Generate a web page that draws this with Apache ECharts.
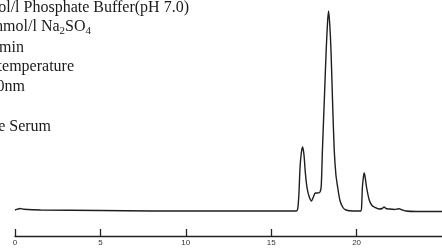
<!DOCTYPE html>
<html>
<head>
<meta charset="utf-8">
<script src="https://cdn.jsdelivr.net/npm/echarts@6/dist/echarts.min.js"></script>
<style>
  html, body { margin: 0; padding: 0; background: #fff; }
  #chart { width: 442px; height: 251px; }
</style>
</head>
<body>
<div id="chart"></div>
<script>
// retention time (min) and detector signal (arbitrary units, baseline ~26)
var times = [0, 0.15, 0.3, 0.5, 1.5, 5, 8, 11, 14.3, 16.47,
  16.55, 16.62, 16.69, 16.77, 16.84, 16.92, 17.0, 17.1, 17.23, 17.36, 17.47, 17.58, 17.72, 17.86,
  17.93, 18.0, 18.11, 18.22, 18.3, 18.36, 18.43, 18.5, 18.59, 18.69, 18.79, 18.89, 19.02, 19.18, 19.37,
  19.8, 20.25, 20.3, 20.34, 20.4, 20.44, 20.5, 20.58, 20.74, 20.88, 21.03, 21.32, 21.5, 21.61, 21.72, 21.9,
  22.2, 22.4, 22.49, 22.6, 22.88, 23.5, 25];
var signal = [26, 26.8, 27.5, 26.8, 26, 25.5, 25, 25, 25, 25,
  27, 41, 69, 84, 89, 81, 63, 48, 39, 35, 39, 43, 43, 44,
  50, 86, 136, 186, 214, 225, 211, 186, 136, 86, 61, 49, 36, 29, 26,
  25, 25, 32, 49, 59, 63, 59, 49, 36, 31, 29, 27, 27.5, 29, 27.5, 27,
  26.5, 27, 27.2, 26.5, 25, 24.5, 24.5];

var xTicks = [0, 5, 10, 15, 20, 25];

var conditions = [
  {text: 'Eluent : 50mmol/l Phosphate Buffer(pH 7.0)', x: 189, y: 8},
  {text: '{n|+ 100mmol/l Na}{s|2}{n|SO}{s|4}', x: 91, y: 27},
  {text: 'Flow rate : 1.0ml/min', x: 24, y: 48},
  {text: 'Column temp. : Room temperature', x: 74, y: 67},
  {text: 'Detector : UV 280nm', x: 25, y: 87},
  {text: 'Sample : Bovine Serum', x: 51, y: 127}
];

var chart = echarts.init(document.getElementById('chart'));

var seriesData = [];
for (var i = 0; i < times.length; i++) {
  seriesData.push([times[i], signal[i]]);
}

var textFont = '"Liberation Serif", "Times New Roman", serif';
var graphics = conditions.map(function (c) {
  return {
    type: 'text',
    x: c.x,
    y: c.y,
    silent: true,
    style: {
      text: c.text,
      fill: '#1a1a1a',
      fontFamily: textFont,
      fontSize: 16,
      align: 'right',
      verticalAlign: 'middle',
      rich: {
        n: {fontFamily: textFont, fontSize: 16, lineHeight: 20, fill: '#1a1a1a'},
        s: {fontFamily: textFont, fontSize: 11, lineHeight: 11, verticalAlign: 'bottom', fill: '#1a1a1a'}
      }
    }
  };
});

chart.setOption({
  animation: false,
  grid: {left: 15, right: 0, top: 10, bottom: 15},
  graphic: graphics,
  xAxis: {
    type: 'value',
    min: xTicks[0],
    max: xTicks[xTicks.length - 1],
    interval: 5,
    axisLine: {show: true, lineStyle: {color: '#222', width: 1.3}},
    axisTick: {show: true, inside: true, length: 7, lineStyle: {color: '#222', width: 1.3}},
    axisLabel: {fontSize: 8, color: '#333', margin: 3, showMaxLabel: false},
    splitLine: {show: false}
  },
  yAxis: {
    type: 'value',
    min: 0,
    max: 226,
    show: false
  },
  series: [{
    type: 'line',
    data: seriesData,
    symbol: 'none',
    smooth: 0.25,
    lineStyle: {color: '#1e1e1e', width: 1.4}
  }]
});
</script>
</body>
</html>
